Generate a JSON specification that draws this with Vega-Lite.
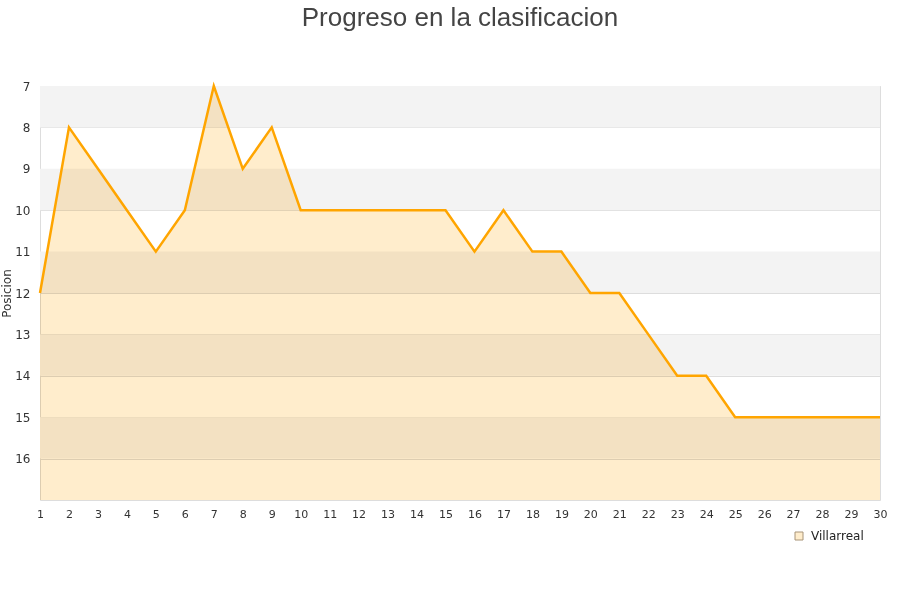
{
  "$schema": "https://vega.github.io/schema/vega-lite/v6.json",
  "width": 840,
  "height": 414,
  "autosize": {"type": "none"},
  "padding": {"left": 40, "top": 86, "right": 20, "bottom": 100},
  "background": "white",
  "title": {
    "text": "Progreso en la clasificacion",
    "font": "Liberation Sans",
    "fontSize": 26,
    "fontWeight": "normal",
    "color": "#444444",
    "anchor": "middle",
    "frame": "group",
    "offset": 49
  },
  "config": {
    "view": {"stroke": "#dddddd", "strokeWidth": 1},
    "axis": {"labelFont": "DejaVu Sans", "labelFontSize": 11, "labelColor": "#333333", "titleFont": "DejaVu Sans", "titleFontWeight": "normal", "titleColor": "#333333"}
  },
  "datasets": {
    "bands": [
      {"desde": 7, "hasta": 8},
      {"desde": 9, "hasta": 10},
      {"desde": 11, "hasta": 12},
      {"desde": 13, "hasta": 14},
      {"desde": 15, "hasta": 16}
    ],
    "progreso": [
      {"jornada": 1, "posicion": 12, "equipo": "Villarreal"},
      {"jornada": 2, "posicion": 8, "equipo": "Villarreal"},
      {"jornada": 3, "posicion": 9, "equipo": "Villarreal"},
      {"jornada": 4, "posicion": 10, "equipo": "Villarreal"},
      {"jornada": 5, "posicion": 11, "equipo": "Villarreal"},
      {"jornada": 6, "posicion": 10, "equipo": "Villarreal"},
      {"jornada": 7, "posicion": 7, "equipo": "Villarreal"},
      {"jornada": 8, "posicion": 9, "equipo": "Villarreal"},
      {"jornada": 9, "posicion": 8, "equipo": "Villarreal"},
      {"jornada": 10, "posicion": 10, "equipo": "Villarreal"},
      {"jornada": 11, "posicion": 10, "equipo": "Villarreal"},
      {"jornada": 12, "posicion": 10, "equipo": "Villarreal"},
      {"jornada": 13, "posicion": 10, "equipo": "Villarreal"},
      {"jornada": 14, "posicion": 10, "equipo": "Villarreal"},
      {"jornada": 15, "posicion": 10, "equipo": "Villarreal"},
      {"jornada": 16, "posicion": 11, "equipo": "Villarreal"},
      {"jornada": 17, "posicion": 10, "equipo": "Villarreal"},
      {"jornada": 18, "posicion": 11, "equipo": "Villarreal"},
      {"jornada": 19, "posicion": 11, "equipo": "Villarreal"},
      {"jornada": 20, "posicion": 12, "equipo": "Villarreal"},
      {"jornada": 21, "posicion": 12, "equipo": "Villarreal"},
      {"jornada": 22, "posicion": 13, "equipo": "Villarreal"},
      {"jornada": 23, "posicion": 14, "equipo": "Villarreal"},
      {"jornada": 24, "posicion": 14, "equipo": "Villarreal"},
      {"jornada": 25, "posicion": 15, "equipo": "Villarreal"},
      {"jornada": 26, "posicion": 15, "equipo": "Villarreal"},
      {"jornada": 27, "posicion": 15, "equipo": "Villarreal"},
      {"jornada": 28, "posicion": 15, "equipo": "Villarreal"},
      {"jornada": 29, "posicion": 15, "equipo": "Villarreal"},
      {"jornada": 30, "posicion": 15, "equipo": "Villarreal"}
    ]
  },
  "layer": [
    {
      "data": {"name": "bands"},
      "mark": {"type": "rect", "color": "#f3f3f3"},
      "encoding": {
        "y": {"field": "desde", "type": "quantitative", "scale": {"domain": [7, 17], "reverse": true, "nice": false, "zero": false},
          "axis": {"title": "Posicion", "titleFontSize": 12, "titleX": -27, "titleY": 207, "values": [7, 8, 9, 10, 11, 12, 13, 14, 15, 16], "grid": true, "gridColor": "#dddddd", "ticks": false, "domain": false, "labelPadding": 10, "labelFontSize": 12}},
        "y2": {"field": "hasta"}
      }
    },
    {
      "data": {"name": "progreso"},
      "mark": {"type": "area", "blend": "multiply", "interpolate": "linear"},
      "encoding": {
        "x": {"field": "jornada", "type": "ordinal", "scale": {"type": "point", "padding": 0},
          "axis": {"title": null, "labelAngle": 0, "grid": false, "ticks": false, "domain": false, "labelPadding": 8, "labelOverlap": false}},
        "y": {"field": "posicion", "type": "quantitative"},
        "y2": {"datum": 17},
        "fill": {"field": "equipo", "type": "nominal", "scale": {"range": ["#ffedcc"]},
          "legend": {"title": null, "orient": "none", "legendX": 753, "legendY": 444, "symbolType": "square", "symbolSize": 64, "symbolStrokeColor": "#a89478", "symbolStrokeWidth": 1, "labelFont": "DejaVu Sans", "labelFontSize": 12, "labelColor": "#222222", "labelOffset": 6}}
      }
    },
    {
      "data": {"name": "progreso"},
      "mark": {"type": "line", "color": "#ffa500", "strokeWidth": 2.5},
      "encoding": {
        "x": {"field": "jornada", "type": "ordinal"},
        "y": {"field": "posicion", "type": "quantitative"}
      }
    }
  ]
}
